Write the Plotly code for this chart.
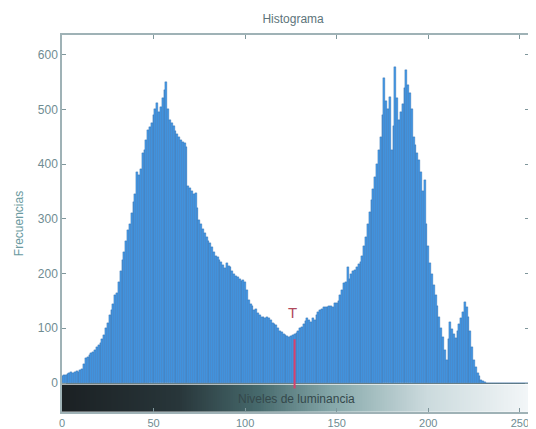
import plotly.graph_objects as go

# Luminance levels 0..255 and their estimated counts
levels = list(range(256))
counts = [
    12, 15, 14, 16, 18, 20, 19, 21, 22, 20, 23, 25, 35, 45, 48, 52,
    55, 57, 60, 65, 70, 73, 80, 88, 100, 110, 125, 133, 145, 160, 165, 185,
    205, 225, 240, 260, 280, 290, 310, 330, 345, 386, 380, 392, 420, 426, 445, 462,
    468, 475, 490, 500, 512, 495, 505, 520, 535, 550, 500, 480, 475, 470, 460, 455,
    450, 445, 440, 438, 431, 360, 356, 350, 345, 347, 320, 298, 290, 282, 275, 267,
    260, 255, 249, 240, 232, 230, 225, 222, 215, 210, 219, 214, 212, 205, 200, 196,
    194, 190, 186, 188, 185, 170, 152, 145, 140, 133, 135, 128, 125, 121, 121, 118,
    121, 119, 115, 110, 108, 106, 100, 95, 93, 90, 88, 86, 84, 86, 88, 90,
    91, 95, 100, 102, 108, 113, 119, 115, 112, 118, 115, 125, 130, 133, 136, 139,
    138, 139, 140, 141, 139, 146, 146, 150, 160, 170, 183, 185, 212, 190, 200, 205,
    207, 212, 218, 222, 232, 250, 267, 290, 312, 335, 355, 377, 400, 425, 450, 490,
    557, 515, 500, 523, 426, 470, 578, 520, 481, 495, 510, 540, 572, 545, 530, 500,
    450, 435, 420, 408, 385, 350, 371, 290, 250, 220, 200, 180, 160, 140, 120, 100,
    84, 60, 42, 80, 111, 98, 90, 82, 95, 108, 118, 130, 148, 138, 121, 95,
    65, 42, 30, 18, 12, 6, 3, 1, 0, 0, 0, 0, 0, 0, 0, 0,
    0, 0, 0, 0, 0, 0, 0, 0, 0, 0, 0, 0, 0, 0, 0, 0,
]

threshold = 127
threshold_span = [-10, 80]
x_ticks = [0, 50, 100, 150, 200, 250]
y_ticks = [0, 100, 200, 300, 400, 500, 600]
band_edges = [-53, -3]

font_family = "Liberation Sans Narrow, Arial Narrow, Liberation Sans, sans-serif"
axis_color = "#6f8c92"

fig = go.Figure()

# luminance gradient strip below zero
fig.add_trace(go.Heatmap(
    z=[levels],
    x=levels,
    y=band_edges,
    colorscale=[[0, "#1b2023"], [0.25, "#28363a"], [0.42, "#46696c"],
                [0.58, "#86a8aa"], [0.78, "#cbdadd"], [1, "#f3f6f8"]],
    showscale=False,
    hoverinfo="skip",
))

fig.add_trace(go.Bar(
    x=levels,
    y=counts,
    marker=dict(color="#4699e6", line=dict(color="#23599a", width=0.3)),
    showlegend=False,
))

fig.add_trace(go.Scatter(
    x=[threshold, threshold],
    y=threshold_span,
    mode="lines",
    line=dict(color="#d8406e", width=2),
    showlegend=False,
))

fig.add_annotation(
    x=threshold - 1, y=128, text="T", showarrow=False,
    font=dict(family=font_family, size=15, color="#b04a5c"),
)
fig.add_annotation(
    x=128, y=-29, text="Niveles de luminancia", showarrow=False,
    font=dict(family=font_family, size=12, color="#34484b"),
)

# page body has an 8px margin, so the figure is sized/offset to compensate
fig.update_layout(
    width=528, height=421,
    margin=dict(l=54, r=7, t=27, b=17, autoexpand=False),
    paper_bgcolor="white", plot_bgcolor="white",
    bargap=0,
    showlegend=False,
    title=dict(text="Histograma", x=0.54, xanchor="center", y=0.985, yanchor="top",
               font=dict(family=font_family, size=12, color="#5d747a")),
    font=dict(family=font_family, size=12, color=axis_color),
)
fig.update_xaxes(
    range=[0, 255], tickvals=x_ticks, ticks="inside", ticklen=4,
    tickcolor="#7f969b", showline=True, linecolor="#9fb2b6", linewidth=1.5,
    mirror="ticks", showgrid=False, zeroline=False, automargin=False,
    tickfont=dict(family=font_family, size=11, color=axis_color),
)
fig.update_yaxes(
    range=[-53, 636], tickvals=y_ticks, ticks="inside", ticklen=4,
    tickcolor="#7f969b", showline=True, linecolor="#9fb2b6", linewidth=1.5,
    mirror="ticks", showgrid=False, zeroline=True, zerolinecolor="#6f8488",
    zerolinewidth=1, automargin=False,
    title=dict(text="Frecuencias", standoff=12,
               font=dict(family=font_family, size=12, color="#6a9aa0")),
    tickfont=dict(family=font_family, size=12, color=axis_color),
)

fig.write_html("out.html")
